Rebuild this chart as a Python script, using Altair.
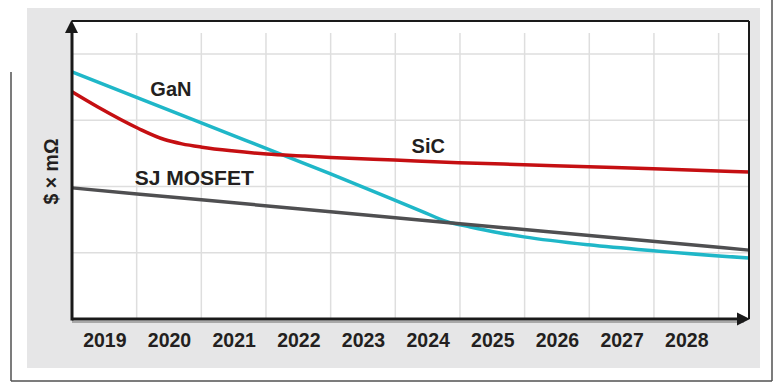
import altair as alt
import pandas as pd

# ---- data ----
year_ticks = [2019, 2020, 2021, 2022, 2023, 2024, 2025, 2026, 2027, 2028]
grid_x = [2019.5, 2020.5, 2021.5, 2022.5, 2023.5, 2024.5, 2025.5, 2026.5, 2027.5, 2028.5]
grid_y = [1, 2, 3, 4]

gan_x = [2018.5, 2020.5, 2022.5, 2023.9, 2024.3, 2024.66, 2025.12, 2025.49, 2026.49, 2027.49, 2028.97]
gan_y = [3.73, 2.96, 2.19, 1.63, 1.47, 1.39, 1.30, 1.24, 1.12, 1.03, 0.92]

sic_x = [2018.5, 2018.9, 2019.52, 2019.93, 2020.2, 2020.51, 2020.97, 2021.51, 2022.1, 2022.5, 2023.49, 2024.48, 2025.49, 2026.49, 2027.49, 2028.97]
sic_y = [3.43, 3.20, 2.88, 2.71, 2.645, 2.595, 2.54, 2.49, 2.46, 2.44, 2.40, 2.36, 2.33, 2.30, 2.27, 2.22]

sj_x = [2018.5, 2020.5, 2022.5, 2024.5, 2026.5, 2028.97]
sj_y = [1.98, 1.80, 1.62, 1.44, 1.26, 1.04]

series_names = ["GaN", "SiC", "SJ MOSFET"]
series_colors = ["#1fb7c8", "#c50f12", "#4f4f51"]

label_text = ["GaN", "SiC", "SJ MOSFET"]
label_x = [2020.03, 2024.01, 2020.39]
label_y = [3.46, 2.60, 2.11]
label_size = [20, 20, 21]

W, H = 677, 298
XDOM = [2018.5, 2028.97]
YDOM = [0, 4.5]

xs = alt.Scale(domain=XDOM, nice=False, zero=False)
ys = alt.Scale(domain=YDOM, nice=False, zero=False)

rows = []
for name, xv, yv in [("GaN", gan_x, gan_y), ("SiC", sic_x, sic_y), ("SJ MOSFET", sj_x, sj_y)]:
    for a, b in zip(xv, yv):
        rows.append({"series": name, "year": a, "value": b})
lines_df = pd.DataFrame(rows)
gx_df = pd.DataFrame({"year": grid_x})
gy_df = pd.DataFrame({"value": grid_y})
lab_df = pd.DataFrame({"text": label_text, "year": label_x, "value": label_y, "fs": label_size})
tick_df = pd.DataFrame({"year": year_ticks, "value": [0] * len(year_ticks)})

one = pd.DataFrame({"k": [0]})

# outer gray panel
panel = alt.Chart(one).mark_rect(color="#e6e6e7").encode(
    x=alt.value(-45), x2=alt.value(688), y=alt.value(-13), y2=alt.value(347)
)
# white plot area
plotbg = alt.Chart(one).mark_rect(color="white").encode(
    x=alt.value(0), x2=alt.value(W), y=alt.value(0), y2=alt.value(H)
)
# outer frame lines
frame_left = alt.Chart(one).mark_rule(color="#505050", strokeWidth=1.5).encode(
    x=alt.value(-61), y=alt.value(51), y2=alt.value(360)
)
frame_bottom = alt.Chart(one).mark_rule(color="#505050", strokeWidth=1.5).encode(
    x=alt.value(-61), x2=alt.value(700), y=alt.value(360)
)
frame_right = alt.Chart(one).mark_rule(color="#505050", strokeWidth=1.5).encode(
    x=alt.value(700), y=alt.value(-21), y2=alt.value(360)
)

# axes (year labels and y title) -- first field layer so its axis settings lead
axes = alt.Chart(tick_df).mark_point(opacity=0).encode(
    x=alt.X(
        "year:Q",
        scale=xs,
        axis=alt.Axis(
            values=year_ticks,
            format="d",
            title=None,
            grid=False,
            ticks=False,
            tickSize=0,
            domain=False,
            labelFont="Liberation Sans",
            labelFontWeight="bold",
            labelFontSize=19.5,
            labelColor="#231f20",
            labelPadding=12,
            labelFlush=False,
            labelOverlap=False,
            zindex=5,
        ),
    ),
    y=alt.Y(
        "value:Q",
        scale=ys,
        axis=alt.Axis(
            title="$ × mΩ",
            labels=False,
            ticks=False,
            domain=False,
            grid=False,
            titleFont="Liberation Sans",
            titleFontWeight="bold",
            titleFontSize=19.5,
            titleColor="#231f20",
            titleX=-21,
            titleY=150,
            titleAngle=270,
            titleAlign="center",
            titleBaseline="middle",
            zindex=5,
        ),
    ),
)

# grid
vgrid = alt.Chart(gx_df).mark_rule(color="#dedede", strokeWidth=1.5).encode(
    x=alt.X("year:Q", scale=xs), y=alt.value(12), y2=alt.value(H)
)
hgrid = alt.Chart(gy_df).mark_rule(color="#dedede", strokeWidth=1.5).encode(
    y=alt.Y("value:Q", scale=ys), x=alt.value(0), x2=alt.value(W)
)

# axis & borders
top_border = alt.Chart(one).mark_rule(color="#1a1a1a", strokeWidth=2).encode(
    x=alt.value(0), x2=alt.value(W), y=alt.value(0)
)
right_border = alt.Chart(one).mark_rule(color="#1a1a1a", strokeWidth=2).encode(
    x=alt.value(W), y=alt.value(0), y2=alt.value(H)
)
bottom_shadow = alt.Chart(one).mark_rule(color="#a8a8a8", strokeWidth=2).encode(
    x=alt.value(0), x2=alt.value(672), y=alt.value(H + 3)
)
bottom_axis = alt.Chart(one).mark_rule(color="#1a1a1a", strokeWidth=3).encode(
    x=alt.value(0), x2=alt.value(668), y=alt.value(H)
)
left_axis = alt.Chart(one).mark_rule(color="#1a1a1a", strokeWidth=3).encode(
    x=alt.value(0), y=alt.value(10), y2=alt.value(H + 1.5)
)
arrow_up = alt.Chart(one).mark_point(
    shape="M-1,1L0,-1L1,1Z", filled=True, color="#1a1a1a", opacity=1, size=169
).encode(x=alt.value(-0.5), y=alt.value(5.5))
arrow_right = alt.Chart(one).mark_point(
    shape="M-1,-1L1,0L-1,1Z", filled=True, color="#1a1a1a", opacity=1, size=169
).encode(x=alt.value(671.5), y=alt.value(H))

lines = alt.Chart(lines_df).mark_line(strokeWidth=3.5, interpolate="monotone").encode(
    x=alt.X("year:Q", scale=xs),
    y=alt.Y("value:Q", scale=ys),
    color=alt.Color("series:N", scale=alt.Scale(domain=series_names, range=series_colors), legend=None),
    order=alt.Order("year:Q"),
)

labels = alt.Chart(lab_df).mark_text(
    font="Liberation Sans", fontWeight="bold", color="#231f20",
    align="center", baseline="middle"
).encode(
    x=alt.X("year:Q", scale=xs),
    y=alt.Y("value:Q", scale=ys),
    text="text:N",
    size=alt.Size("fs:Q", scale=None, legend=None),
)

chart = alt.layer(
    panel, plotbg, frame_left, frame_bottom, frame_right,
    axes, vgrid, hgrid, lines, labels,
    top_border, right_border, bottom_shadow, bottom_axis, left_axis, arrow_up, arrow_right,
).properties(
    width=W, height=H,
    autosize=alt.AutoSizeParams(type="none"),
    padding={"left": 72, "top": 21, "right": 28, "bottom": 72},
    background="white",
).configure_view(stroke=None)

chart.save("out.html", embed_options={"renderer": "svg", "actions": False})
